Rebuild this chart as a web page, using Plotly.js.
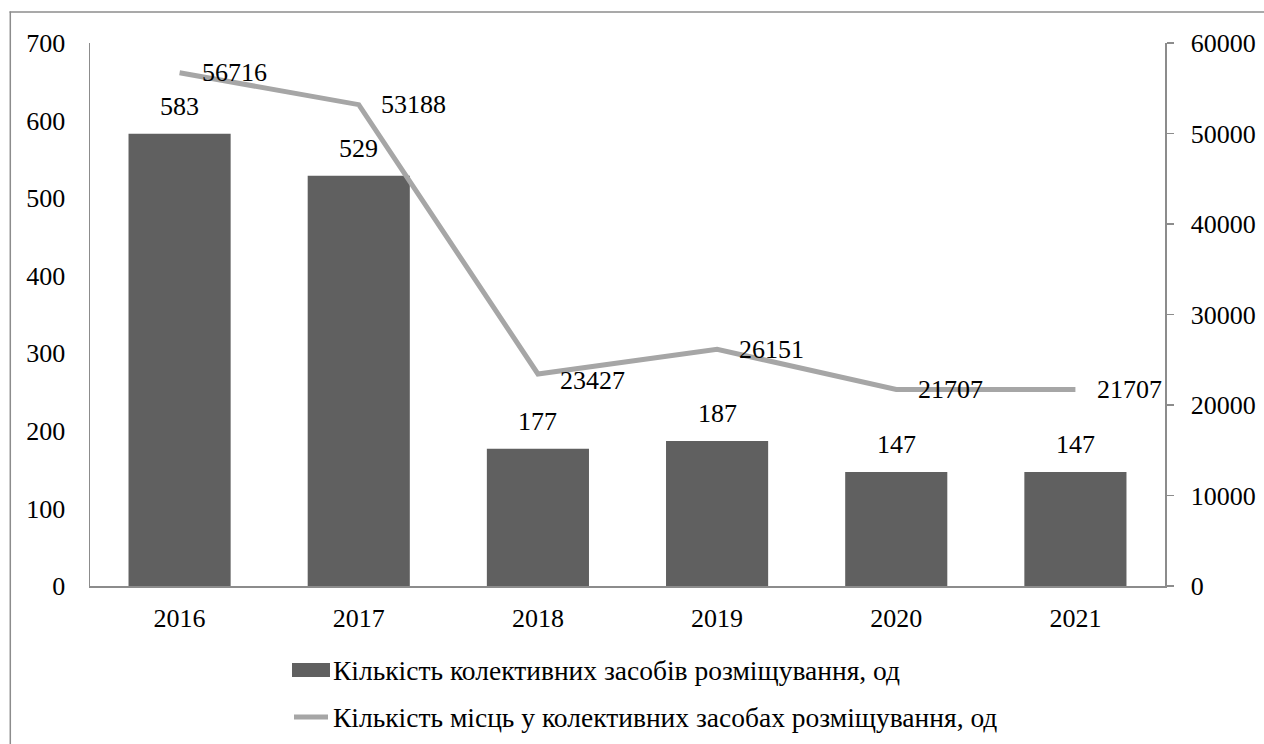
<!DOCTYPE html>
<html><head><meta charset="utf-8">
<script src="https://cdn.plot.ly/plotly-3.0.1.min.js"></script>
<style>
html,body{margin:0;padding:0;background:#fff;overflow:hidden;width:1264px;height:744px;}
#chart{position:absolute;left:0;top:0;width:1264px;height:744px;}
</style></head>
<body>
<div id="chart"></div>
<script>
const years = ['2016','2017','2018','2019','2020','2021'];
const facilities = [583, 529, 177, 187, 147, 147];
const places = [56716, 53188, 23427, 26151, 21707, 21707];
const nameFacilities = 'Кількість колективних засобів розміщування, од';
const namePlaces = 'Кількість місць у колективних засобах розміщування, од';

const FONT = 'Liberation Serif, Times New Roman, serif';
const fsz = 26;
const legsz = 27.5;

const traces = [
  {type:'bar', x:years, y:facilities, name:nameFacilities, marker:{color:'#606060'}, showlegend:false, hoverinfo:'skip'},
  {type:'scatter', mode:'lines', x:years, y:places, yaxis:'y2', name:namePlaces, line:{color:'#a6a6a6', width:5}, showlegend:false, hoverinfo:'skip'}
];

const annotations = [];
years.forEach((yr,i)=>{
  annotations.push({x:yr, y:facilities[i], xref:'x', yref:'y', text:String(facilities[i]), showarrow:false, yanchor:'bottom', yshift:11, font:{family:FONT,size:fsz,color:'#000'}});
  annotations.push({x:yr, y:places[i], xref:'x', yref:'y2', text:String(places[i]), showarrow:false, xanchor:'left', yanchor:'middle', xshift:20, yshift: (i===2?-7:0), font:{family:FONT,size:fsz,color:'#000'}});
});
// custom legend
const W = 1075, H = 543, L = 90, B = 586;
const px = v => (v - L) / W;
const py = v => (B - v) / H;
annotations.push({xref:'paper', yref:'paper', x:px(331), y:py(670), xanchor:'left', yanchor:'middle', text:nameFacilities, showarrow:false, font:{family:FONT,size:legsz,color:'#000'}});
annotations.push({xref:'paper', yref:'paper', x:px(331), y:py(717), xanchor:'left', yanchor:'middle', text:namePlaces, showarrow:false, font:{family:FONT,size:legsz,color:'#000'}});
const shapes = [
  {type:'rect', xref:'paper', yref:'paper', x0:px(292), x1:px(330), y0:py(663), y1:py(677), fillcolor:'#606060', line:{width:0}},
  {type:'line', xref:'paper', yref:'paper', x0:px(294), x1:px(328), y0:py(717), y1:py(717), line:{color:'#a6a6a6', width:5}},
  {type:'line', xref:'paper', yref:'paper', x0:px(9.5), x1:px(1300), y0:py(12), y1:py(12), line:{color:'#8c8c8c', width:1.5}, layer:'above'},
  {type:'line', xref:'paper', yref:'paper', x0:px(10.3), x1:px(10.3), y0:py(11.5), y1:py(800), line:{color:'#8c8c8c', width:1.5}, layer:'above'}
];

const layout = {
  width:1264, height:744,
  margin:{l:90, r:99, t:43, b:158},
  paper_bgcolor:'#ffffff', plot_bgcolor:'rgba(0,0,0,0)',
  font:{family:FONT, size:fsz, color:'#000'},
  bargap:0.43,
  xaxis:{showline:true, linecolor:'#8c8c8c', linewidth:1.5, ticks:'', showgrid:false, tickfont:{family:FONT,size:fsz}, ticklabelstandoff:8},
  yaxis:{range:[0,700], dtick:100, showline:true, linecolor:'#8c8c8c', linewidth:1.5, ticks:'', showgrid:false, zeroline:false, tickfont:{family:FONT,size:fsz}, ticklabelstandoff:18},
  yaxis2:{range:[0,60000], dtick:10000, tickformat:'d', overlaying:'y', side:'right', showline:true, linecolor:'#8c8c8c', linewidth:1.5, ticks:'outside', ticklen:7, tickcolor:'#8c8c8c', tickwidth:1.5, showgrid:false, zeroline:false, tickfont:{family:FONT,size:fsz}, ticklabelstandoff:12},
  annotations:annotations, shapes:shapes, showlegend:false
};
Plotly.newPlot('chart', traces, layout, {displayModeBar:false, staticPlot:true});
</script>
</body></html>
